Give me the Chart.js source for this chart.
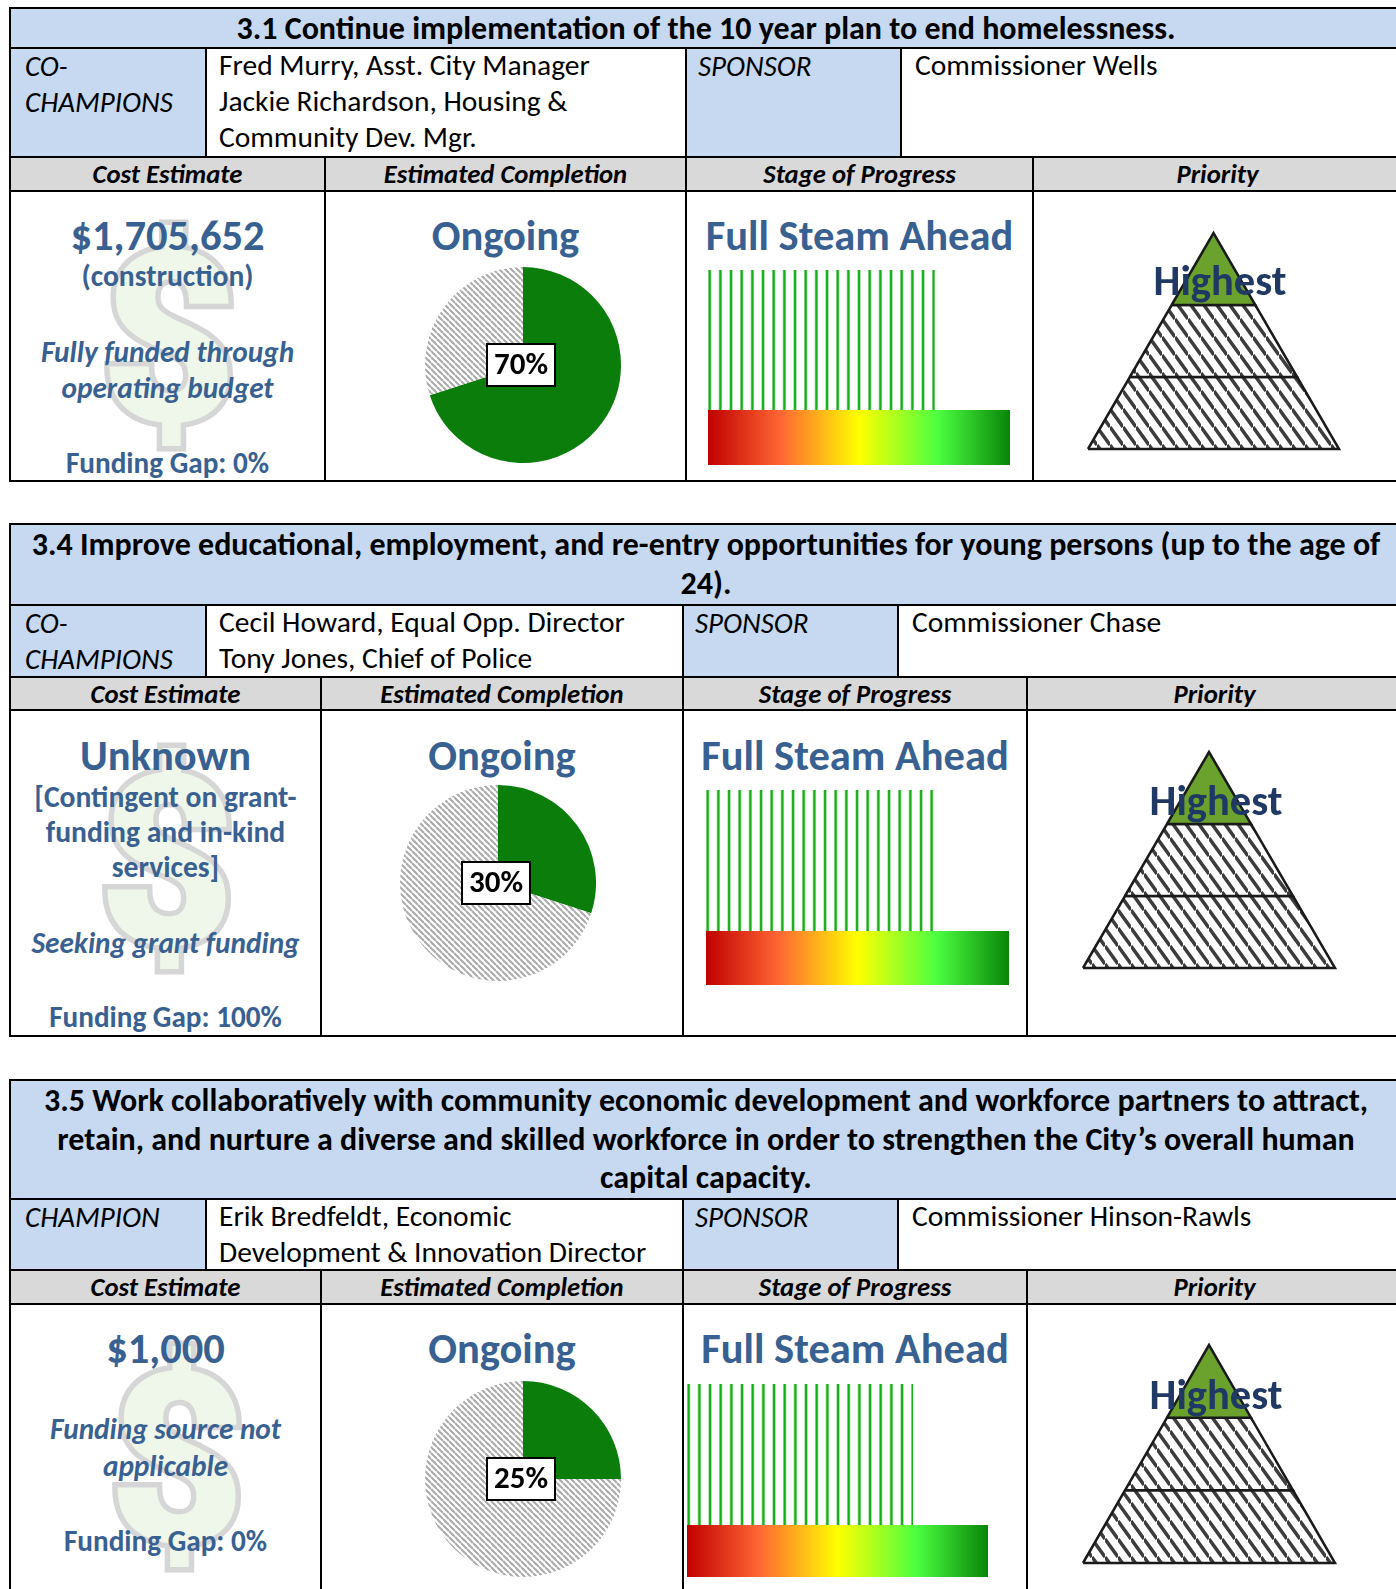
<!DOCTYPE html>
<html>
<head>
<meta charset="utf-8">
<title>Strategic goals status</title>
<script src="https://cdn.jsdelivr.net/npm/chart.js@4.4.1/dist/chart.umd.min.js"></script>
<style>
  body { margin: 0; width: 1396px; height: 1589px; overflow: hidden; background: #fff; position: relative; font-family: Carlito, Lato, sans-serif; }
  .cell { position: absolute; box-sizing: border-box; border: 2px solid #000; overflow: hidden; background: #fff; }
  .blue { background: #c6d9f1; }
  .grey { background: #d9d9d9; }
  .t { position: absolute; white-space: nowrap; z-index: 3; line-height: 1.2; }
  .c { transform: translate(-50%, -50%); }
  .l { transform: translate(0, -50%); }
  .title { font-weight: bold; font-size: 32px; color: #000; }
  .lab { font-style: italic; font-size: 29px; color: #000; }
  .name { font-size: 29.5px; color: #000; }
  .head { font-weight: bold; font-style: italic; font-size: 26.7px; color: #000; }
  .big { font-weight: bold; font-size: 42.5px; color: #386192; }
  .mid { font-weight: bold; font-size: 29.6px; color: #386192; }
  .ital { font-weight: bold; font-style: italic; font-size: 29.3px; color: #386192; }
  .gap { font-weight: bold; font-size: 29.2px; color: #386192; }
  .pri { font-weight: bold; font-size: 42.5px; color: #1f3864; }
  .dollar { position: absolute; font-family: Roboto, sans-serif; font-weight: 900; font-size: 238px; line-height: 1; color: #eef7ea; -webkit-text-stroke: 11px #d6d6d6; paint-order: stroke fill; transform: translate(-50%, -50%); }
  canvas { position: absolute; z-index: 2; }
</style>
</head>
<body>
<script>
// chart values
const completionPct = [70, 30, 25];
const progressPct = [75, 75, 75];
const priorityLevels = ['Highest', 'High', 'Medium'];   // pyramid tiers, top to bottom
const goalPriority = ['Highest', 'Highest', 'Highest'];

// texts
const titleLines = [
    ['3.1 Continue implementation of the 10 year plan to end homelessness.'],
    ['3.4 Improve educational, employment, and re-entry opportunities for young persons (up to the age of', '24).'],
    ['3.5 Work collaboratively with community economic development and workforce partners to attract,',
     'retain, and nurture a diverse and skilled workforce in order to strengthen the City\u2019s overall human',
     'capital capacity.']
];
const championLabel = [['CO-', 'CHAMPIONS'], ['CO-', 'CHAMPIONS'], ['CHAMPION']];
const championNames = [
    ['Fred Murry, Asst. City Manager', 'Jackie Richardson, Housing &', 'Community Dev. Mgr.'],
    ['Cecil Howard, Equal Opp. Director', 'Tony Jones, Chief of Police'],
    ['Erik Bredfeldt, Economic', 'Development & Innovation Director']
];
const sponsorNames = ['Commissioner Wells', 'Commissioner Chase', 'Commissioner Hinson-Rawls'];
const columnHeads = ['Cost Estimate', 'Estimated Completion', 'Stage of Progress', 'Priority'];
const costLines = [
    ['$1,705,652', '(construction)', 'Fully funded through', 'operating budget', 'Funding Gap: 0%'],
    ['Unknown', '[Contingent on grant-', 'funding and in-kind', 'services]', 'Seeking grant funding', 'Funding Gap: 100%'],
    ['$1,000', 'Funding source not', 'applicable', 'Funding Gap: 0%']
];
const completionLabel = ['Ongoing', 'Ongoing', 'Ongoing'];
const stageLabel = ['Full Steam Ahead', 'Full Steam Ahead', 'Full Steam Ahead'];

// layout
const rowsY = [[8, 48, 157, 191, 481], [524, 605, 677, 710, 1036], [1080, 1199, 1270, 1304, 1620]];
const topCols = [[10, 206, 686, 901, 1402], [10, 206, 683, 898, 1402], [10, 206, 683, 898, 1402]];
const lowCols = [[10, 325, 686, 1033, 1402], [10, 321, 683, 1027, 1402], [10, 321, 683, 1027, 1402]];
const costStyle = [
    [[235, 'big'], [277, 'mid'], [353, 'ital'], [389, 'ital'], [464, 'gap']],
    [[755, 'big'], [798, 'mid'], [833, 'mid'], [868, 'mid'], [944, 'ital'], [1018, 'gap']],
    [[1348, 'big'], [1430, 'ital'], [1467, 'ital'], [1542, 'gap']]
];
const dollarPos = [[158, 148], [156, 152], [166, 156]];
const piePos = [[523, 365], [498, 883], [523, 1479]];
const barPos = [[708, 270, 302, 140, 55], [706, 790, 303, 141, 54], [687, 1384, 301, 141, 52]];
const pyrPos = [[1088, 233, 251, 216], [1083, 752, 252, 216], [1083, 1345, 252, 218]];
const priLabelPos = [[1220, 280], [1216, 800], [1216, 1394]];
const headY = [235, 755, 1348];

function cell(x1, y1, x2, y2, cls) {
    let d = document.createElement('div');
    d.className = 'cell ' + (cls || '');
    d.style.left = (x1 - 1) + 'px';
    d.style.top = (y1 - 1) + 'px';
    d.style.width = (x2 - x1 + 2) + 'px';
    d.style.height = (y2 - y1 + 2) + 'px';
    document.body.appendChild(d);
    return d;
}

function text(str, x, y, cls, left) {
    let d = document.createElement('div');
    d.className = 't ' + cls + (left ? ' l' : ' c');
    d.style.left = x + 'px';
    d.style.top = y + 'px';
    d.textContent = str;
    document.body.appendChild(d);
}

function canvasAt(x, y, w, h) {
    let c = document.createElement('canvas');
    c.width = w;
    c.height = h;
    c.style.left = x + 'px';
    c.style.top = y + 'px';
    document.body.appendChild(c);
    return c;
}

function hatch(w, h, lineW, color) {
    let c = document.createElement('canvas');
    c.width = w;
    c.height = h;
    let g = c.getContext('2d');
    g.fillStyle = '#fff';
    g.fillRect(0, 0, w, h);
    g.strokeStyle = color;
    g.lineWidth = lineW;
    g.beginPath();
    for (let k = -1; k <= 1; k++) {
        g.moveTo(0, k * h);
        g.lineTo(w, (k + 1) * h);
    }
    g.stroke();
    return g.createPattern(c, 'repeat');
}

function stripes() {
    let c = document.createElement('canvas');
    c.width = 32;
    c.height = 4;
    let g = c.getContext('2d');
    for (let i = 0; i < 3; i++) {
        let x = i * 32 / 3;
        g.fillStyle = '#9ddc9d';
        g.fillRect(x, 0, 3.4, 4);
        g.fillStyle = '#16b016';
        g.fillRect(x + 0.7, 0, 2, 4);
    }
    return g.createPattern(c, 'repeat');
}

const pieHatch = hatch(6, 6, 2, '#a9a9a9');
const pyrHatch = hatch(13, 18, 3.5, '#3c3c3c');
const barStripes = stripes();

const pctLabel = {
    id: 'pctLabel',
    afterDraw(chart) {
        let ctx = chart.ctx, a = chart.chartArea;
        let v = chart.data.datasets[0].data[0];
        let cx = (a.left + a.right) / 2 - 2, cy = (a.top + a.bottom) / 2;
        ctx.save();
        ctx.fillStyle = '#fff';
        ctx.fillRect(cx - 34, cy - 21, 68, 42);
        ctx.strokeStyle = '#000';
        ctx.lineWidth = 2;
        ctx.strokeRect(cx - 34, cy - 21, 68, 42);
        ctx.fillStyle = '#000';
        ctx.font = 'bold 31px Carlito, Lato';
        ctx.textAlign = 'center';
        ctx.textBaseline = 'middle';
        ctx.fillText(v + '%', cx, cy + 1);
        ctx.restore();
    }
};

function pieChart(p) {
    let [cx, cy] = piePos[p];
    let c = canvasAt(cx - 98, cy - 98, 196, 196);
    new Chart(c, {
        type: 'pie',
        data: {
            labels: ['Complete', 'Remaining'],
            datasets: [{
                data: [completionPct[p], 100 - completionPct[p]],
                backgroundColor: ['#0a7d0a', pieHatch],
                borderWidth: 0
            }]
        },
        options: {
            responsive: false,
            animation: false,
            layout: { padding: 0 },
            plugins: { legend: { display: false }, tooltip: { enabled: false } }
        },
        plugins: [pctLabel]
    });
}

function oneBar(canvas, value, fillColor) {
    new Chart(canvas, {
        type: 'bar',
        data: {
            labels: ['Stage'],
            datasets: [{
                data: [value],
                backgroundColor: fillColor,
                barPercentage: 1,
                categoryPercentage: 1,
                borderWidth: 0
            }]
        },
        options: {
            indexAxis: 'y',
            responsive: false,
            animation: false,
            layout: { padding: 0 },
            plugins: { legend: { display: false }, tooltip: { enabled: false } },
            scales: {
                x: { type: 'linear', min: 0, max: 100, display: false },
                y: { type: 'category', offset: true, display: false }
            }
        }
    });
}

function scaleGradient(ctx) {
    let a = ctx.chart.chartArea;
    if (!a) return '#ccc';
    let g = ctx.chart.ctx.createLinearGradient(a.left, 0, a.right, 0);
    g.addColorStop(0, '#c00000');
    g.addColorStop(0.24, '#ff6633');
    g.addColorStop(0.5, '#ffff00');
    g.addColorStop(0.76, '#4cff40');
    g.addColorStop(1, '#098509');
    return g;
}

function progressChart(p) {
    let [x, y, w, hs, hg] = barPos[p];
    oneBar(canvasAt(x, y, w, hs), progressPct[p], barStripes);
    oneBar(canvasAt(x, y + hs, w, hg), 100, scaleGradient);
}

function pyramidChart(p) {
    let [x, y, w, h] = pyrPos[p];
    let pad = 4;
    let c = canvasAt(x - pad, y - pad, w + 2 * pad, h + 2 * pad);
    let n = priorityLevels.length;
    let hw = v => (n - v) / n;
    let datasets = priorityLevels.map(function(lvl, i) {
        let yTop = n - i, yBot = n - i - 1;
        return {
            label: lvl,
            data: [
                { x: -hw(yBot), y: yBot }, { x: hw(yBot), y: yBot },
                { x: hw(yTop), y: yTop }, { x: -hw(yTop), y: yTop },
                { x: -hw(yBot), y: yBot }
            ],
            fill: 'shape',
            backgroundColor: lvl === goalPriority[p] ? '#6ba22e' : pyrHatch,
            borderColor: '#1a1a1a',
            borderWidth: 2.5,
            pointRadius: 0,
            tension: 0,
            clip: false
        };
    });
    new Chart(c, {
        type: 'line',
        data: { datasets: datasets },
        options: {
            responsive: false,
            animation: false,
            layout: { padding: pad },
            plugins: { legend: { display: false }, tooltip: { enabled: false } },
            scales: {
                x: { type: 'linear', min: -1, max: 1, display: false },
                y: { type: 'linear', min: 0, max: n, display: false }
            }
        }
    });
}

for (let p = 0; p < 3; p++) {
    let r = rowsY[p], tc = topCols[p], lc = lowCols[p];

    cell(tc[0], r[0], tc[4], r[1], 'blue');
    titleLines[p].forEach((ln, i) => text(ln, 706, r[0] + 21 + i * 38.5, 'title'));

    cell(tc[0], r[1], tc[1], r[2], 'blue');
    cell(tc[1], r[1], tc[2], r[2]);
    cell(tc[2], r[1], tc[3], r[2], 'blue');
    cell(tc[3], r[1], tc[4], r[2]);
    championLabel[p].forEach((ln, i) => text(ln, tc[0] + 15, r[1] + 18 + i * 36, 'lab', true));
    championNames[p].forEach((ln, i) => text(ln, tc[1] + 13, r[1] + 18 + i * 36, 'name', true));
    text('SPONSOR', tc[2] + 12, r[1] + 18, 'lab', true);
    text(sponsorNames[p], tc[3] + 14, r[1] + 18, 'name', true);

    for (let k = 0; k < 4; k++) {
        cell(lc[k], r[2], lc[k + 1], r[3], 'grey');
        text(columnHeads[k], (lc[k] + lc[k + 1]) / 2, (r[2] + r[3]) / 2, 'head');
    }
    let costCell = cell(lc[0], r[3], lc[1], r[4]);
    for (let k = 1; k < 4; k++) cell(lc[k], r[3], lc[k + 1], r[4]);

    let d = document.createElement('div');
    d.className = 'dollar';
    d.style.left = dollarPos[p][0] + 'px';
    d.style.top = dollarPos[p][1] + 'px';
    d.textContent = '$';
    costCell.appendChild(d);

    let cx = (lc[0] + lc[1]) / 2;
    costLines[p].forEach((ln, i) => text(ln, cx, costStyle[p][i][0], costStyle[p][i][1]));
    text(completionLabel[p], (lc[1] + lc[2]) / 2, headY[p], 'big');
    text(stageLabel[p], (lc[2] + lc[3]) / 2, headY[p], 'big');
    text(goalPriority[p], priLabelPos[p][0], priLabelPos[p][1], 'pri');

    pieChart(p);
    progressChart(p);
    pyramidChart(p);
}
</script>
</body>
</html>
